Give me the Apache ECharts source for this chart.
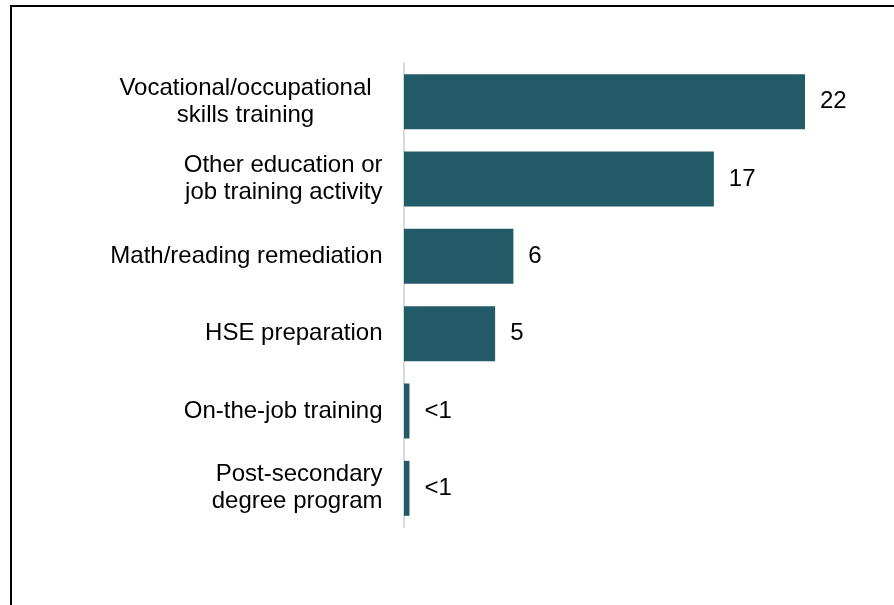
<!DOCTYPE html>
<html>
<head>
<meta charset="utf-8">
<script src="https://cdn.jsdelivr.net/npm/echarts@6/dist/echarts.min.js"></script>
<style>
html,body{margin:0;padding:0;background:#fff;}
#c{width:894px;height:605px;}
</style>
</head>
<body>
<div id="c"></div>
<script>
var categories = [
  "Vocational/occupational\nskills training",
  "Other education or\njob training activity",
  "Math/reading remediation",
  "HSE preparation",
  "On-the-job training",
  "Post-secondary\ndegree program"
];
var values = [22, 17, 6, 5, 0.3, 0.3];
var valueLabels = ["22", "17", "6", "5", "<1", "<1"];

var chart = echarts.init(document.getElementById('c'), null, {renderer: 'canvas'});
var font = '"Liberation Sans", Arial, sans-serif';
chart.setOption({
  animation: false,
  backgroundColor: '#fff',
  graphic: [
    {type: 'polyline', shape: {points: [[11, 605], [11, 6], [894, 6]]},
     style: {stroke: '#000', lineWidth: 2, fill: null}, silent: true}
  ],
  grid: {left: 404, top: 63, bottom: 78, right: 89, containLabel: false},
  xAxis: {
    type: 'value', min: 0, max: 22, show: false,
    splitLine: {show: false}
  },
  yAxis: {
    type: 'category', data: categories, inverse: true, offset: 1.5,
    axisLine: {show: true, lineStyle: {color: '#d9d9d9', width: 2}},
    axisTick: {show: false},
    axisLabel: {
      margin: 20, align: 'right', color: '#000',
      fontFamily: font, fontSize: 24, lineHeight: 27,
      formatter: function (v, i) {
        if (i === 0) {
          return v.split('\n').map(function (s) { return '{w|' + s + '}'; }).join('\n');
        }
        return v;
      },
      rich: {
        w: {width: 274, align: 'center', fontFamily: font, fontSize: 24, lineHeight: 27, color: '#000'}
      }
    }
  },
  series: [{
    type: 'bar', data: values, barWidth: 55,
    itemStyle: {color: '#235A68'},
    label: {
      show: true, position: 'right', distance: 15,
      color: '#000', fontFamily: font, fontSize: 24,
      formatter: function (p) { return valueLabels[p.dataIndex]; }
    }
  }]
});
</script>
</body>
</html>
